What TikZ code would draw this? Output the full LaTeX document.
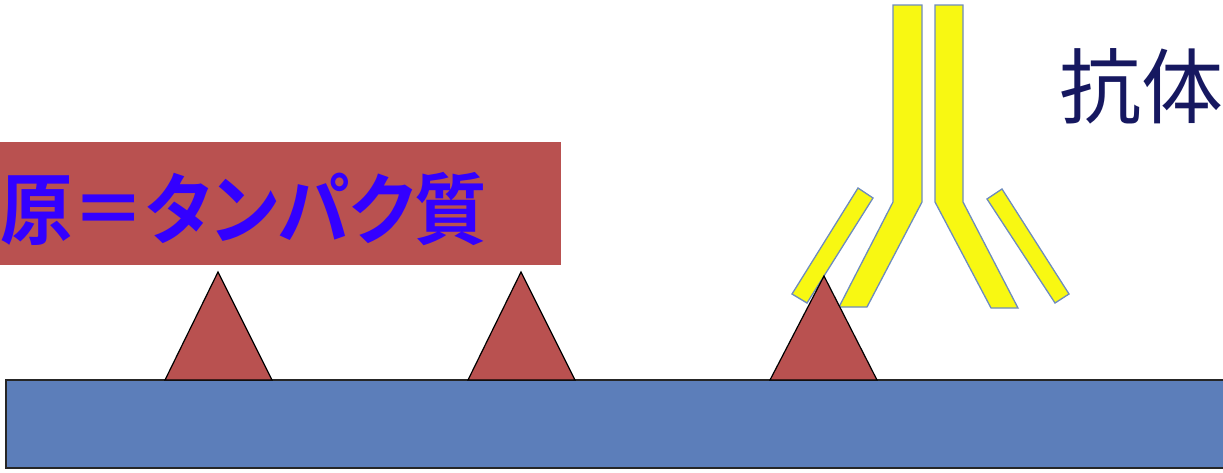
\documentclass[tikz,border=0pt]{standalone}
\usepackage{fontspec}
\newfontfamily\jpbold[RawFeature=+palt]{Noto Sans CJK JP Bold}
\newfontfamily\jpreg{Noto Sans CJK JP}
\definecolor{slab}{RGB}{92,126,186}
\definecolor{antigen}{RGB}{185,81,80}
\definecolor{chainfill}{RGB}{248,248,18}
\definecolor{chainedge}{RGB}{110,140,190}
\definecolor{labelblue}{RGB}{51,0,255}
\definecolor{navy}{RGB}{22,24,96}
\tikzset{
  antigenshape/.style={fill=antigen, draw=black, line width=1.2pt, line join=miter},
  chain/.style={fill=chainfill, draw=chainedge, line width=1.3pt, line join=miter},
}
\begin{document}
\begin{tikzpicture}[x=1pt,y=-1pt]
\useasboundingbox (0,0) rectangle (1223,472);
% substrate plate
\draw[fill=slab, draw=black!85, line width=1.4pt] (6,380) rectangle (1240,468);
% label banner
\fill[antigen] (0,142) rectangle (561,265);
\node[anchor=base west, inner sep=0pt, text=labelblue, font=\jpbold\fontsize{78}{78}\selectfont] (lbl) at (0,238) {\scalebox{0.93}[1]{原＝タンパク質}};
% antigens on the plate
\draw[antigenshape] (165,380) -- (218,272) -- (272,380) -- cycle;
\draw[antigenshape] (468,380) -- (521,272) -- (575,380) -- cycle;
% antibody
\draw[chain] (893,5) -- (922,5) -- (922,202) -- (867,307) -- (839,307) -- (893,202) -- cycle;
\draw[chain] (935,5) -- (963,5) -- (963,202) -- (1018,308) -- (991,308) -- (935,202) -- cycle;
\draw[chain] (858,188) -- (873,198) -- (807,303) -- (792,294) -- cycle;
\draw[chain] (1002,189) -- (987,199) -- (1055,303) -- (1069,294) -- cycle;
% bound antigen
\draw[antigenshape] (770,380) -- (824,276) -- (877,380) -- cycle;
\node[anchor=base west, inner sep=0pt, text=navy, font=\jpreg\fontsize{82}{82}\selectfont] (ab) at (1059,117) {抗体};
\end{tikzpicture}
\end{document}
